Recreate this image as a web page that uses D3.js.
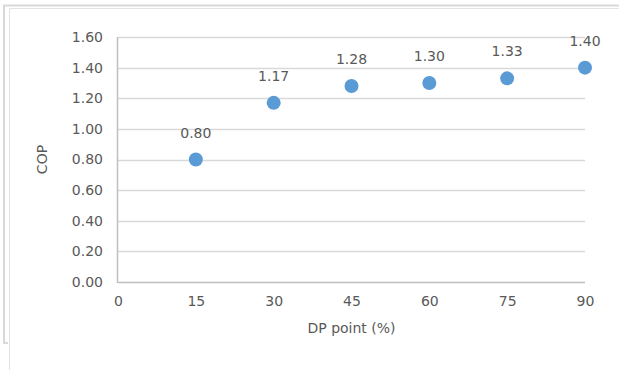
<!DOCTYPE html>
<html><head><meta charset="utf-8">
<script src="https://cdn.jsdelivr.net/npm/d3@7"></script>
<style>body{margin:0;background:#fff}svg{display:block}</style>
</head><body>
<script>
const xValues = [15, 30, 45, 60, 75, 90];
const copValues = [0.80, 1.17, 1.28, 1.30, 1.33, 1.40];
const dataLabels = ["0.80", "1.17", "1.28", "1.30", "1.33", "1.40"];
const xTicks = [0, 15, 30, 45, 60, 75, 90];
const yTicks = [0, 0.2, 0.4, 0.6, 0.8, 1.0, 1.2, 1.4, 1.6];

const W = 619, H = 370;
const m = {left: 118, right: 34, top: 37, bottom: 88};
const svg = d3.select("body").append("svg").attr("width", W).attr("height", H);
const font = "DejaVu Sans";
const textCol = "#595959";
const fs = 14;

// frame lines
svg.append("path").attr("d", "M619,5.5 H4 V343 H8").attr("fill","none").attr("stroke","#d9d9d9").attr("stroke-width",2);
svg.append("path").attr("d", "M619,8.5 H9.5 V370").attr("fill","none").attr("stroke","#e3e3e3").attr("stroke-width",1);

const x = d3.scaleLinear().domain([0, 90]).range([m.left, W - m.right]);
const y = d3.scaleLinear().domain([0, 1.6]).range([H - m.bottom, m.top]);

// gridlines
svg.append("g").selectAll("line").data(yTicks.filter(d => d > 0)).join("line")
  .attr("x1", x(0)).attr("x2", x(90))
  .attr("y1", d => Math.round(y(d)) + 0.5).attr("y2", d => Math.round(y(d)) + 0.5)
  .attr("stroke", "#d9d9d9").attr("stroke-width", 1.5);

// axes lines
svg.append("line").attr("x1", x(0)).attr("x2", x(90)).attr("y1", Math.round(y(0)) + 0.5).attr("y2", Math.round(y(0)) + 0.5)
  .attr("stroke", "#bfbfbf").attr("stroke-width", 1.5);
svg.append("line").attr("x1", x(0) - 0.5).attr("x2", x(0) - 0.5).attr("y1", y(1.6)).attr("y2", y(0) + 1)
  .attr("stroke", "#bfbfbf").attr("stroke-width", 1.5);

// y axis labels
const yAxis = d3.axisLeft(y).tickValues(yTicks).tickFormat(d3.format(".2f")).tickSize(0).tickPadding(15);
const gy = svg.append("g").attr("transform", `translate(${x(0)},0)`).call(yAxis);
gy.select(".domain").remove();
gy.selectAll("text").attr("font-family", font).attr("font-size", fs).attr("fill", textCol);

// x axis labels
const xAxis = d3.axisBottom(x).tickValues(xTicks).tickFormat(d3.format("d")).tickSize(0).tickPadding(14);
const gx = svg.append("g").attr("transform", `translate(0,${y(0)})`).call(xAxis);
gx.select(".domain").remove();
gx.selectAll("text").attr("font-family", font).attr("font-size", fs).attr("fill", textCol);

// titles
svg.append("text").attr("x", (x(0) + x(90)) / 2).attr("y", 333).attr("text-anchor", "middle")
  .attr("font-family", font).attr("font-size", fs).attr("fill", textCol).text("DP point (%)");
svg.append("text").attr("transform", `translate(47,${(y(0) + y(1.6)) / 2}) rotate(-90)`).attr("text-anchor", "middle")
  .attr("font-family", font).attr("font-size", fs).attr("fill", textCol).text("COP");

// points
const data = xValues.map((v, i) => ({x: v, y: copValues[i], label: dataLabels[i]}));
svg.append("g").selectAll("circle").data(data).join("circle")
  .attr("cx", d => x(d.x)).attr("cy", d => y(d.y)).attr("r", 7).attr("fill", "#5b9bd5");

svg.append("g").selectAll("text").data(data).join("text")
  .attr("x", d => x(d.x)).attr("y", d => y(d.y) - 22).attr("text-anchor", "middle")
  .attr("font-family", font).attr("font-size", fs).attr("fill", textCol).text(d => d.label);
</script>
</body></html>
